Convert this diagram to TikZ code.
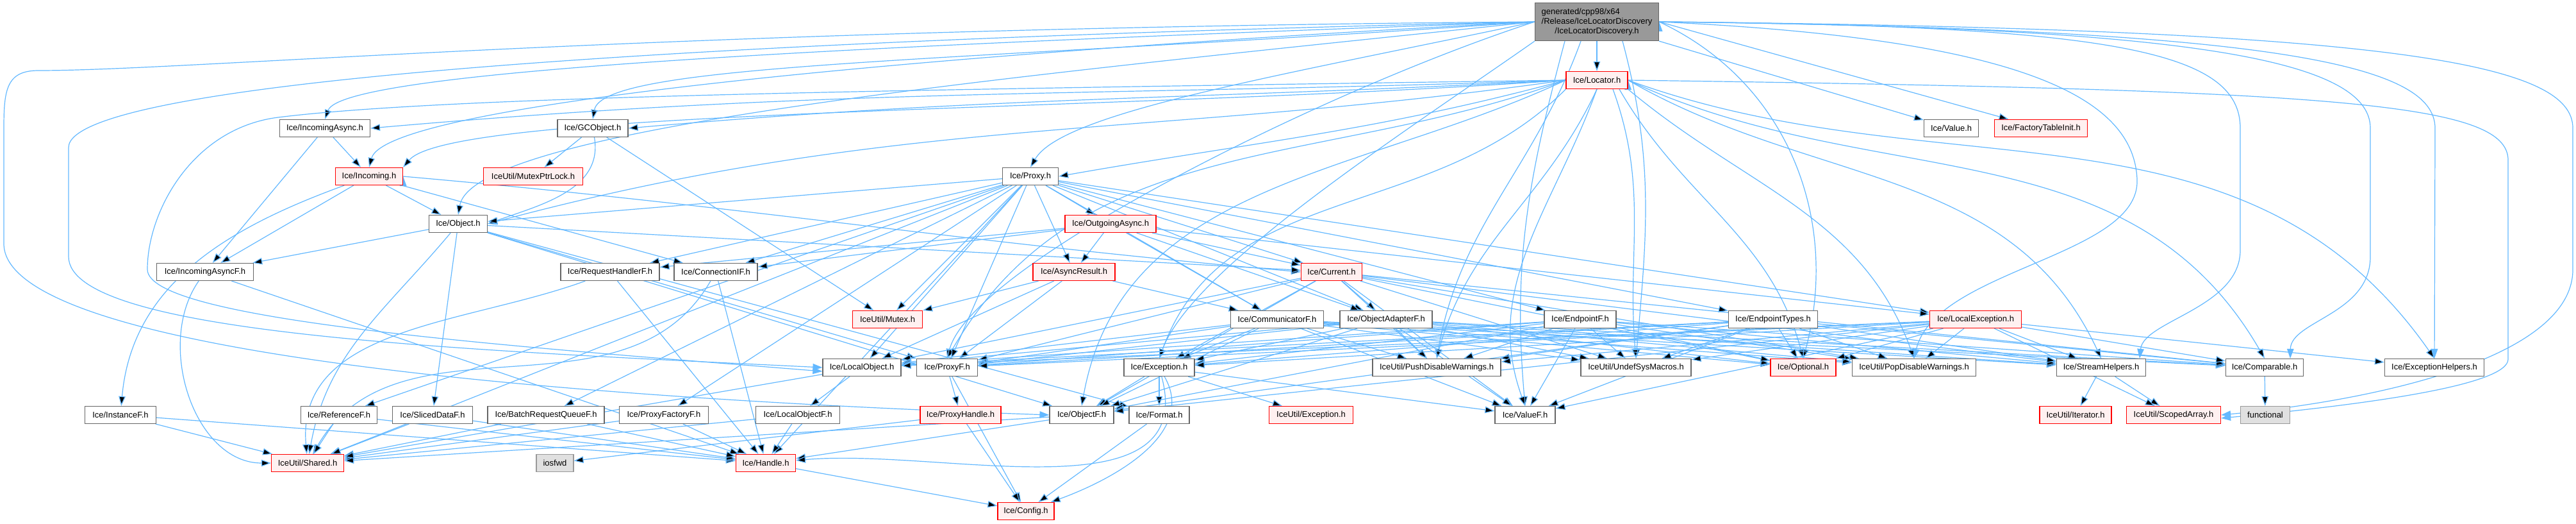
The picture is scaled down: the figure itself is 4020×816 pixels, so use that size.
\documentclass[tikz,border=0pt]{standalone}
\usepackage{fontspec}
\setmainfont{Liberation Sans}
\usetikzlibrary{arrows.meta}
\definecolor{edgeblue}{HTML}{63B8FF}
\definecolor{boxgray}{HTML}{666666}
\definecolor{rootgray}{HTML}{999999}
\definecolor{sysgray}{HTML}{E0E0E0}
\definecolor{redfill}{HTML}{FFF0F0}
\pgfdeclarelayer{bg}
\pgfsetlayers{bg,main}

\begin{document}
\begin{tikzpicture}[x=0.1pt,y=-0.1pt,>={Triangle[length=1.5pt,width=1.05pt]},
    file/.style={draw=boxgray,fill=white,line width=0.12pt,inner sep=0pt,minimum height=2.7pt,font=\fontsize{1.3}{1.5}\selectfont},
    trunc/.style={file,draw=red,fill=redfill},
    sys/.style={file,draw=rootgray,fill=sysgray},
    bw/.style={minimum width=#1*0.1pt},
    dep/.style={->,draw=edgeblue,line width=0.12pt}]
    \useasboundingbox (0,0) rectangle (4020,816);

    \node[file,fill=rootgray,bw=193,minimum height=5.9pt] (root) at (2492,34)
      {\begin{tabular}{@{}l@{}}generated/cpp98/x64\\/Release/IceLocatorDiscovery\\\multicolumn{1}{@{}c@{}}{/IceLocatorDiscovery.h}\end{tabular}};
    \node[trunc,bw=96]  (loc)       at (2492,125) {Ice/Locator.h};

    \node[file,bw=141]  (incasync)  at (507,200)  {Ice/IncomingAsync.h};
    \node[file,bw=110]  (gcobj)     at (925,200)  {Ice/GCObject.h};
    \node[file,bw=85]   (value)     at (3045,200) {Ice/Value.h};
    \node[trunc,bw=145] (ftinit)    at (3185,200) {Ice/FactoryTableInit.h};

    \node[trunc,bw=105] (incoming)  at (576,275)  {Ice/Incoming.h};
    \node[trunc,bw=155] (mutexptr)  at (832,275)  {IceUtil/MutexPtrLock.h};
    \node[file,bw=87]   (proxy)     at (1608,275) {Ice/Proxy.h};

    \node[file,bw=91]   (object)    at (715,349)  {Ice/Object.h};
    \node[trunc,bw=142] (outasync)  at (1733,349) {Ice/OutgoingAsync.h};

    \node[file,bw=151]  (incasyncf) at (320,424)  {Ice/IncomingAsyncF.h};
    \node[file,bw=154]  (reqhf)     at (952,424)  {Ice/RequestHandlerF.h};
    \node[file,bw=130]  (connif)    at (1117,424) {Ice/ConnectionIF.h};
    \node[trunc,bw=128] (asyncres)  at (1676,424) {Ice/AsyncResult.h};
    \node[trunc,bw=95]  (current)   at (2078,424) {Ice/Current.h};

    \node[trunc,bw=109] (mutex)     at (1385,498) {IceUtil/Mutex.h};
    \node[file,bw=145]  (commf)     at (1993,498) {Ice/CommunicatorF.h};
    \node[file,bw=144]  (oadapterf) at (2163,498) {Ice/ObjectAdapterF.h};
    \node[file,bw=112]  (endpf)     at (2466,498) {Ice/EndpointF.h};
    \node[file,bw=139]  (endptypes) at (2767,498) {Ice/EndpointTypes.h};
    \node[trunc,bw=143] (localexc)  at (3083,498) {Ice/LocalException.h};

    \node[file,bw=122]  (localobj)  at (1345,573) {Ice/LocalObject.h};
    \node[file,bw=95]   (proxyf)    at (1478,573) {Ice/ProxyF.h};
    \node[file,bw=110]  (exception) at (1809,573) {Ice/Exception.h};
    \node[file,bw=200]  (pushdw)    at (2242,573) {IceUtil/PushDisableWarnings.h};
    \node[file,bw=172]  (undefsm)   at (2553,573) {IceUtil/UndefSysMacros.h};
    \node[trunc,bw=102] (optional)  at (2814,573) {Ice/Optional.h};
    \node[file,bw=193]  (popdw)     at (2987,573) {IceUtil/PopDisableWarnings.h};
    \node[file,bw=139]  (streamh)   at (3279,573) {Ice/StreamHelpers.h};
    \node[file,bw=121]  (comparable) at (3534,573) {Ice/Comparable.h};
    \node[file,bw=155]  (exchelp)   at (3799,573) {Ice/ExceptionHelpers.h};

    \node[file,bw=111]  (instancef) at (188,647)  {Ice/InstanceF.h};
    \node[file,bw=119]  (referencef) at (529,647) {Ice/ReferenceF.h};
    \node[file,bw=125]  (slicedf)   at (675,647)  {Ice/SlicedDataF.h};
    \node[file,bw=182]  (batchf)    at (852,647)  {Ice/BatchRequestQueueF.h};
    \node[file,bw=139]  (proxyfactf) at (1036,647) {Ice/ProxyFactoryF.h};
    \node[file,bw=131]  (localobjf) at (1245,647) {Ice/LocalObjectF.h};
    \node[trunc,bw=126] (proxyhandle) at (1499,647) {Ice/ProxyHandle.h};
    \node[file,bw=100]  (objectf)   at (1688,647) {Ice/ObjectF.h};
    \node[file,bw=94]   (format)    at (1809,647) {Ice/Format.h};
    \node[trunc,bw=131] (iuexc)     at (2046,647) {IceUtil/Exception.h};
    \node[file,bw=94]   (valuef)    at (2380,647) {Ice/ValueF.h};
    \node[trunc,bw=112] (iterator)  at (3239,647) {IceUtil/Iterator.h};
    \node[trunc,bw=147] (scopedarr) at (3392,647) {IceUtil/ScopedArray.h};
    \node[sys,bw=77]    (functional) at (3535,647) {functional};

    \node[trunc,bw=113] (shared)    at (480,722)  {IceUtil/Shared.h};
    \node[sys,bw=58]    (iosfwd)    at (866,722)  {iosfwd};
    \node[trunc,bw=93]  (handle)    at (1195,722) {Ice/Handle.h};

    \node[trunc,bw=88]  (config)    at (1601,797) {Ice/Config.h};

    \begin{pgfonlayer}{bg}
    \path[dep]
    (root) edge (loc)
    (root.west) edge[out=182,in=70,out distance=110pt,in distance=8pt] (incasync.north)
    (root.west) edge[out=183,in=75,out distance=100pt,in distance=10pt] (incoming.north)
    (root.west) edge[out=184,in=80,out distance=90pt,in distance=9pt] (gcobj.north)
    (root.west) edge[out=186,in=80,out distance=80pt,in distance=14pt] (object.north)
    (root.west) edge[out=192,in=60,out distance=40pt,in distance=10pt] (proxy.north)
    (root.west) edge[out=198,in=75,out distance=35pt,in distance=15pt] (proxyf.north)
    (root.south west) edge[out=215,in=70,out distance=25pt,in distance=15pt] (exception.north)
    ([xshift=-2.5pt]root.south) edge[out=250,in=80] (pushdw.north)
    ([xshift=-5pt]root.south) edge[out=255,in=95] (valuef.north)
    ([xshift=4pt]root.south) edge[out=285,in=85] (undefsm.north)
    (root.east) edge[out=-25,in=75] (optional.north)
    (root.south east) edge (value)
    (root.east) edge (ftinit)
    ;
    \draw[dep] (root.west) .. controls (1200,60) and (107,120) .. (107,230) -- (107,400) .. controls (107,520) and (700,545) .. (localobj.west);
    \draw[dep] (root.west) .. controls (1000,45) and (300,110) .. (60,110) .. controls (10,110) and (6,140) .. (6,200) -- (6,380) .. controls (6,520) and (600,610) .. (objectf.west);
    \draw[dep] (root.east) .. controls (3150,60) and (3330,150) .. (3335,280) .. controls (3340,400) and (3020,420) .. (popdw.north);
    \draw[dep] (root.east) .. controls (3300,40) and (3496,80) .. (3496,200) -- (3496,390) .. controls (3496,480) and (3345,500) .. ([xshift=6pt]streamh.north);
    \draw[dep] (root.east) .. controls (3400,42) and (3699,90) .. (3699,200) -- (3699,400) .. controls (3699,490) and (3575,500) .. ([xshift=4pt]comparable.north);
    \draw[dep] (root.east) .. controls (3550,45) and (3800,100) .. (3800,200) -- (exchelp.north);
    \draw[dep] (root.east) .. controls (3750,45) and (4015,100) .. (4015,200) -- (4015,420) .. controls (4015,560) and (3700,625) .. (scopedarr.east);

    \path[dep]
    (loc.west) edge[out=182,in=5] (incasync.east)
    (loc.west) edge[out=184,in=50,in distance=12pt] (incoming.north east)
    (loc.west) edge[out=183,in=5] (gcobj.east)
    (loc.west) edge[out=188,in=15] (object.east)
    (loc.west) edge[out=195,in=10] (proxy.east)
    (loc.west) edge[out=200,in=60] (proxyf.north)
    (loc.west) edge[out=205,in=80] (objectf.north)
    (loc.south west) edge[out=225,in=70] (exception.north)
    (loc.south) edge[out=245,in=75] (pushdw.north)
    (loc.south) edge[out=250,in=110] (valuef.north)
    ([xshift=2.5pt]loc.south) edge[out=290,in=95] (undefsm.north)
    ([xshift=3.5pt]loc.south) edge[out=300,in=105] (optional.north)
    (loc.south east) edge[out=-40,in=110] (popdw.north)
    (loc.east) edge[out=-30,in=115] (streamh.north)
    (loc.east) edge[out=-25,in=120] (comparable.north)
    (loc.east) edge[out=-20,in=125] (exchelp.north)
    ;
    \draw[dep] (loc.west) .. controls (1400,140) and (700,150) .. (434,183) .. controls (300,200) and (230,330) .. (230,420) .. controls (230,500) and (800,540) .. ([yshift=-0.6pt]localobj.west);
    \draw[dep] (loc.east) .. controls (3650,140) and (3914,160) .. (3914,250) -- (3914,560) .. controls (3914,600) and (3700,630) .. ([yshift=-0.5pt]scopedarr.east);

    \path[dep]
    (incasync) edge (incoming) edge (incasyncf)
    (incoming) edge (incasyncf) edge (object) edge (connif)
    (incoming) edge[out=200,in=85] (instancef)
    (incoming.east) edge[out=-5,in=175] (current.west)
    (gcobj) edge (mutexptr) edge (mutex)
    (gcobj) edge[out=-80,in=20] (object.east)
    (object) edge (incasyncf) edge (slicedf) edge (objectf) edge (proxyf) edge (current) edge (format)
    (object) edge[out=230,in=80] (shared)
    ;
    \path[dep]
    (proxy) edge (shared) edge (mutex) edge (proxyf) edge (proxyfactf) edge (connif) edge (reqhf)
            edge (endpf) edge (endptypes) edge (object) edge (oadapterf) edge (referencef) edge (batchf)
            edge (asyncres) edge (outasync) edge (commf) edge (localexc) edge (current) edge (localobj) edge (handle)
    (outasync) edge (asyncres) edge (connif) edge (reqhf) edge (commf) edge (localexc) edge (current) edge (oadapterf)
    (asyncres) edge (mutex) edge (localobj) edge (proxyf) edge (commf)
    (current) edge (oadapterf)
    ;
    \path[dep]
    (incasyncf) edge[out=235,in=180] (shared)
    (incasyncf) edge (handle)
    (reqhf) edge[out=200,in=95] (shared)
    (reqhf) edge (handle)
    (connif) edge[out=240,in=60] (shared)
    (connif) edge (handle)
    (instancef) edge (shared) edge (handle)
    (referencef) edge (shared) edge (handle)
    (slicedf) edge (shared) edge (handle)
    (batchf) edge (shared) edge (handle)
    (proxyfactf) edge (shared) edge (handle)
    (localobjf) edge (shared) edge (handle)
    (objectf) edge (shared) edge (handle)
    (localobj) edge (localobjf) edge (shared)
    (proxyf) edge (proxyhandle) edge (config)
    (proxyhandle) edge (config) edge (iosfwd)
    (exception) edge (objectf) edge (format) edge (iuexc) edge (valuef)
    (exception) edge[out=-60,in=20] (config)
    (exception) edge[out=-75,in=5] (handle)
    (format) edge (config)
    (handle) edge (config)
    (streamh) edge (iterator) edge (scopedarr)
    (comparable) edge (functional)
    ;
    \path[dep]
    (current) edge (pushdw) edge (proxyf) edge (objectf) edge (valuef) edge (exception) edge (localobj)
              edge (streamh) edge (comparable) edge (optional) edge (undefsm) edge (popdw)
    (commf) edge (pushdw) edge (proxyf) edge (objectf) edge (valuef) edge (exception) edge (localobj)
            edge (streamh) edge (comparable) edge (optional) edge (undefsm) edge (popdw)
    (oadapterf) edge (pushdw) edge (proxyf) edge (objectf) edge (valuef) edge (exception) edge (localobj)
                edge (streamh) edge (comparable) edge (optional) edge (undefsm) edge (popdw)
    (endpf) edge (pushdw) edge (proxyf) edge (objectf) edge (valuef) edge (exception) edge (localobj)
            edge (streamh) edge (comparable) edge (optional) edge (undefsm) edge (popdw)
    (endptypes) edge (pushdw) edge (proxyf) edge (objectf) edge (valuef) edge (exception) edge (localobj)
                edge (streamh) edge (comparable) edge (optional) edge (undefsm) edge (popdw)
    (localexc) edge (pushdw) edge (proxyf) edge (objectf) edge (valuef) edge (exception) edge (localobj)
               edge (streamh) edge (comparable) edge (optional) edge (undefsm) edge (popdw)
               edge (exchelp) edge (scopedarr)
    ;
    \end{pgfonlayer}
\end{tikzpicture}
\end{document}
